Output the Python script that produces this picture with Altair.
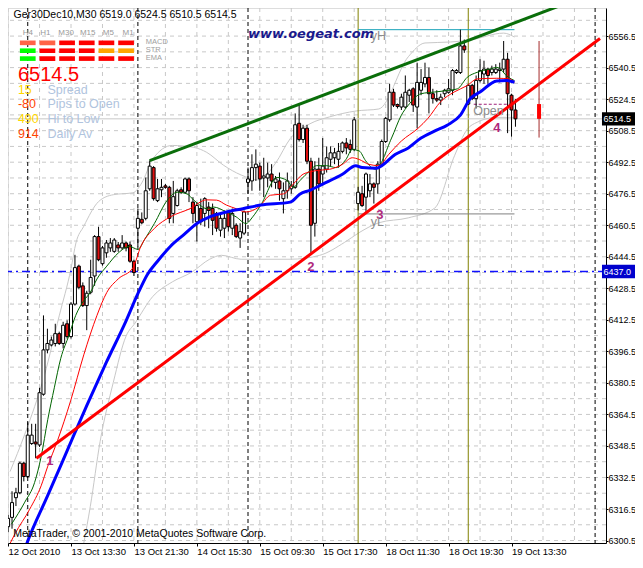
import altair as alt
import pandas as pd

# ---------------- M30 price bars (bar index 0 = 12 Oct 2010 19:30) ----------------
opens = [6307.5, 6312.25, 6322.25, 6324.75, 6339.75, 6333, 6349.75, 6350.5, 6349, 6374.75,
         6397.25, 6399.75, 6400.5, 6405.5, 6400.5, 6410.5, 6404, 6420.5, 6439.75, 6429.75,
         6419.75, 6426.5, 6434.75, 6454.75, 6441, 6446.5, 6449, 6447.25, 6450.5, 6449,
         6451.5, 6450.5, 6442.25, 6459, 6463.5, 6464, 6479, 6489.75, 6473, 6478.5,
         6480.5, 6479.75, 6466.5, 6470.5, 6478.5, 6477.25, 6484, 6472.25, 6462.25, 6469,
         6466.5, 6469.75, 6469, 6466.5, 6458, 6459, 6467.25, 6459, 6460.5, 6454,
         6456.5, 6482.25, 6483, 6489.75, 6490.5, 6484.5, 6484.5, 6486.5, 6482.25, 6483,
         6474, 6478, 6479, 6479.75, 6512.25, 6504, 6509.75, 6493, 6461.5, 6489,
         6486.5, 6489, 6494, 6494.75, 6494, 6498, 6502.25, 6501.5, 6499, 6471.5,
         6476.5, 6474.75, 6478, 6481.5, 6481.5, 6491.5, 6503, 6514, 6528, 6521.75,
         6520.5, 6520.5, 6526.5, 6529.75, 6520.5, 6529, 6532.25, 6535.5, 6527.25, 6524.75,
         6524, 6527.25, 6528, 6529, 6538, 6538, 6551.5, 6522, 6531.5, 6524.75,
         6534, 6537.25, 6539.75, 6538, 6538, 6539, 6539.75, 6544.75, 6526.5, 6519]
highs = [6313.5, 6325.5, 6327.25, 6340.5, 6340.5, 6360.5, 6359.75, 6359.75, 6378, 6414.75,
         6408, 6404, 6410.5, 6406.5, 6411.5, 6412.25, 6421.5, 6445.5, 6440.5, 6431.5,
         6427.25, 6443, 6455.5, 6459.75, 6450, 6453, 6454, 6454, 6452, 6455.5,
         6452.25, 6452.25, 6443, 6469, 6467, 6484.75, 6493.4, 6490.5, 6484, 6484,
         6481.5, 6480.5, 6483, 6479, 6479.75, 6484.75, 6484.75, 6474.75, 6472.25, 6474,
         6474.75, 6472.25, 6471.5, 6467.25, 6466.5, 6468, 6468, 6469, 6461.5, 6461.5,
         6468, 6489.75, 6496.5, 6499, 6492.25, 6494.75, 6492.25, 6491.5, 6485.5, 6487.25,
         6482.25, 6487.25, 6483, 6517.25, 6522.25, 6511.5, 6511.5, 6494.75, 6493, 6494.75,
         6504.75, 6500.5, 6500.5, 6499.75, 6502.25, 6503, 6504.75, 6504, 6515.5, 6480,
         6480.5, 6487.25, 6486.5, 6482.25, 6493, 6504, 6515.5, 6532.25, 6529.75, 6522.25,
         6527.25, 6536.5, 6529.75, 6530.5, 6543, 6539.75, 6543, 6540.5, 6529.75, 6529,
         6527.25, 6529.75, 6534.75, 6539.75, 6539.75, 6559.75, 6554.75, 6532.25, 6532.25, 6536.5,
         6544.75, 6544, 6540.5, 6541.5, 6542.25, 6543, 6554, 6548, 6527.25, 6524.5]
lows = [6304.75, 6306.5, 6318, 6324, 6330.5, 6332.25, 6349, 6342.25, 6348, 6374,
        6395.5, 6399, 6399, 6399.75, 6398, 6403, 6403, 6419.75, 6428, 6419,
        6407.25, 6425.5, 6429.75, 6442.25, 6440, 6444, 6447, 6446.5, 6447, 6448,
        6447.25, 6441.5, 6434.75, 6449.75, 6461, 6463, 6478, 6473, 6472.25, 6474.75,
        6479, 6461.5, 6461.5, 6470, 6476.5, 6476.5, 6472.25, 6461.5, 6452.25, 6460.5,
        6459.75, 6459, 6455.5, 6457.25, 6454.75, 6454, 6457.25, 6455.5, 6454, 6449,
        6455.5, 6476.5, 6478, 6483, 6478, 6474.75, 6479.75, 6479.75, 6479, 6473,
        6466.5, 6474, 6476.5, 6479, 6503, 6502.25, 6491.5, 6446.5, 6454.75, 6478,
        6481.5, 6487.25, 6490.5, 6491.5, 6489.75, 6497, 6496.5, 6497.25, 6498, 6468,
        6469.75, 6466.5, 6474.75, 6471.5, 6476.5, 6490, 6502.25, 6513, 6520.5, 6519.75,
        6519, 6519.75, 6523, 6518, 6509.75, 6526.5, 6530.5, 6517.25, 6522.25, 6523,
        6521.5, 6525.5, 6527.25, 6526.5, 6537.25, 6537.25, 6548, 6521.5, 6524, 6519.75,
        6533, 6532.25, 6532.25, 6536.5, 6537.25, 6533, 6538, 6507.25, 6505.5, 6510.5]
closes = [6311.75, 6319.75, 6324.75, 6339.75, 6333, 6354, 6354, 6349.5, 6375.5, 6397.25,
          6400.5, 6402.25, 6405.5, 6400.5, 6409.75, 6404, 6420.5, 6439, 6429, 6419.75,
          6426, 6434, 6454.75, 6443, 6449, 6451.5, 6451.5, 6453, 6449, 6451.5,
          6449, 6442.25, 6436.5, 6464, 6461.75, 6478, 6490.5, 6474, 6479, 6479.75,
          6479.75, 6464, 6475, 6478, 6477.25, 6484, 6478, 6466.5, 6470.5, 6462.25,
          6474, 6468, 6463, 6459, 6464, 6464, 6459.75, 6466.5, 6454.75, 6457.25,
          6467.25, 6484, 6489.75, 6491.5, 6484, 6485.5, 6486.5, 6483, 6484, 6479,
          6478, 6483, 6480.5, 6511.5, 6504, 6509.75, 6493, 6460.5, 6489, 6481.5,
          6490.5, 6494.75, 6497.25, 6497.25, 6498, 6502.25, 6499.75, 6499, 6514, 6477.25,
          6470.5, 6486.5, 6481.5, 6479.75, 6491.5, 6503, 6514.75, 6528, 6521.5, 6520.75,
          6525.5, 6528, 6529, 6521.5, 6533, 6533, 6535.5, 6527.25, 6524.75, 6524,
          6525.5, 6529, 6529.75, 6539, 6539, 6551.5, 6549.5, 6531.5, 6524.75, 6534,
          6539, 6539.75, 6536.5, 6539.75, 6539.75, 6539.75, 6544.75, 6527.25, 6519, 6514.5]

# ---------------- moving averages (bar index, price) ----------------
ma_blue_i = [4.4, 5.1, 10, 15, 20, 25, 30, 33, 35.5, 38, 41.25, 44.7, 48, 51.25, 55.5, 59.7,
             64.25, 71.75, 74.25, 76.75, 80, 85, 88.4, 90, 93.75, 95, 98.4, 101.75, 105,
             108.4, 111.75, 115, 117.5, 120, 124.25, 126.75, 128.75]
ma_blue_p = [6297, 6300.75, 6323, 6346, 6369, 6391, 6412, 6425.75, 6435.75, 6442.25, 6449.75,
             6455.75, 6461.4, 6464.75, 6467.25, 6468.9, 6470.75, 6472.25, 6476.4, 6478.25,
             6481.4, 6486.4, 6490.75, 6489.75, 6489.4, 6490.75, 6496.4, 6499.75, 6504.75,
             6508.25, 6511.4, 6516.4, 6524.75, 6528.1, 6533.75, 6533.9, 6533.1]
ma_red_i = [0.5, 1.75, 5.5, 8.4, 10.1, 12.6, 15.9, 19.25, 22.6, 25.1, 28, 31.75, 33.75, 37.2,
            41.25, 46.25, 50.5, 53, 55.5, 58, 60.5, 63.75, 66.75, 70, 72.5, 75, 78.4, 81.75,
            85, 87.5, 89.25, 91.75, 94.25, 96.75, 100, 104.25, 106.75, 110, 113.4, 116.75,
            119.25, 124.25, 127.5, 128.75]
ma_red_p = [6299, 6303.9, 6316.4, 6328.25, 6338.25, 6351.4, 6371.4, 6394.75, 6414.75, 6426.4,
            6433.25, 6438.9, 6449.75, 6458.9, 6464.75, 6468.9, 6473.4, 6473.25, 6470.75,
            6468.9, 6467.25, 6469.75, 6475.75, 6476.4, 6481.4, 6486.4, 6488.25, 6488.9,
            6491.4, 6494.75, 6493.9, 6491.4, 6490.75, 6496.4, 6503.25, 6509.75, 6514.75,
            6523.25, 6528.1, 6531.4, 6534.75, 6535.1, 6534.75, 6533.1]
ma_green_i = [0.9, 4.25, 6.75, 8.4, 10.1, 11.75, 13.4, 15.5, 17.2, 19.25, 20.9, 22.6, 25.1, 28,
              30.9, 33, 34.7, 37.2, 40.5, 43, 45.5, 47.2, 48.75, 50.5, 52.2, 55.5, 58, 60.5,
              62.2, 64.25, 68.4, 70.9, 72.5, 74.25, 76.75, 78.4, 80.9, 83.4, 85.9, 87.5, 89.25,
              90.9, 93.4, 97.5, 100, 101.75, 105, 108.4, 111.75, 114.25, 116.75, 119.25, 122.5,
              124.25, 127.2, 128.75]
ma_green_p = [6308.9, 6320, 6330, 6343, 6362, 6378, 6393, 6404.75, 6414.75, 6422.25, 6426.4,
              6433.25, 6439.75, 6446.4, 6449.75, 6448.25, 6453.25, 6461.4, 6473.25, 6477.25,
              6476.4, 6473.25, 6470.75, 6468.9, 6469.75, 6467.25, 6464.75, 6461.4, 6464.75,
              6470.75, 6484.75, 6483.25, 6479.75, 6483.25, 6488.25, 6490.75, 6490.75, 6489.75,
              6493.9, 6498.9, 6498.25, 6493.25, 6488.9, 6504.75, 6516.4, 6521.4, 6527.25,
              6528.1, 6528.9, 6529.75, 6535.6, 6538.1, 6539.75, 6540.6, 6535.6, 6533.9]

# ---------------- envelope bands (bar index, price) ----------------
band_up_i = [0.5, 4.25, 9.25, 13, 16, 17.25, 19.25, 23, 26.75, 31.75, 34, 36.75, 41.75, 47.25,
             50.5, 54.75, 59.25, 63.75, 68, 71.75, 76.75, 81.75, 88.5, 94.25, 101.75, 106,
             112.5, 117.5, 126, 128.75]
band_up_p = [6335.5, 6354.5, 6384.5, 6414.5, 6438.5, 6451.5, 6460, 6472.5, 6476, 6477, 6482,
             6494, 6501, 6500, 6497.5, 6491, 6486, 6483.5, 6492, 6504.5, 6512, 6515.5, 6518.5,
             6519.5, 6546, 6553, 6553.5, 6554.5, 6558, 6556]
band_lo_i = [19.25, 20.9, 23.4, 26.75, 30, 32.25, 36.75, 41.75, 46.75, 51.25, 54.25, 59.25,
             64.25, 71.75, 79.25, 85.5, 89.25, 94.25, 101.75, 108.5, 113.5, 116.75, 119.25,
             124.25, 128.75]
band_lo_p = [6299.25, 6317.75, 6350.75, 6380.75, 6404.25, 6410.75, 6424.25, 6431.75, 6436.75,
             6443.25, 6445.25, 6443.25, 6443.25, 6443.25, 6445.25, 6451.75, 6456.75, 6461.75,
             6464.25, 6469.25, 6495.75, 6509.25, 6512.75, 6515.25, 6515.25]

# ---------------- trend lines, levels, daily bar ----------------
trend_green_i = [36, 140.75]
trend_green_p = [6493.25, 6572.25]
trend_red_i = [7.2, 150.5]
trend_red_p = [6342.25, 6555.25]
day_sep = [5, 33, 61, 149.25]
day_mark = [89, 117]
level_names = ["yH", "yL"]
level_prices = [6559.75, 6466.25]
day_open = 6521.9
bid = 6514.5
blue_level = 6437.0
day_o, day_h, day_l, day_c = 6522.0, 6554.0, 6505.0, 6514.5

# ---------------- axes ----------------
x_ticks = [0, 16, 32, 48, 64, 80, 96, 112, 128]
x_labels = ["12 Oct 2010", "13 Oct 13:30", "13 Oct 21:30", "14 Oct 15:30", "15 Oct 09:30",
            "15 Oct 17:30", "18 Oct 11:30", "18 Oct 19:30", "19 Oct 13:30"]
y_ticks = [6300.5 + 16 * k for k in range(18)]
grid_x = list(range(0, 145, 8))
grid_y = [6300.5 + 8 * k for k in range(35)]

# ---------------- signal panel ----------------
tf_names = ["H4", "H1", "M30", "M15", "M5", "M1"]
sig_rows = ["MACD", "STR", "EMA"]
sig_colors = [["#ff6347", "#ff6347", "#ff0000", "#ff0000", "#ff0000", "#ff0000"],
              ["#00ff00", "#ff0000", "#ff0000", "#ff0000", "#ffa500", "#ffa500"],
              ["#00ff00", "#ff0000", "#ff0000", "#ff0000", "#ff0000", "#ff0000"]]
info_vals = ["15", "-80", "490", "914"]
info_names = ["Spread", "Pips to Open", "Hi to Low", "Daily Av"]
info_colors = ["#ffd700", "#ff4500", "#ffd700", "#ff4500"]

# ======================================================================
FONT = "Liberation Sans"
XS = alt.Scale(domain=[1.25, 150.75], nice=False, zero=False)
YS = alt.Scale(domain=[6299.25, 6570.75], nice=False, zero=False)

xaxis = alt.Axis(values=x_ticks,
                 labelExpr="[" + ",".join("'%s'" % s for s in x_labels) + "][round(datum.value/16)]",
                 labelAlign="left", labelBaseline="top", labelPadding=0, tickSize=3,
                 tickColor="black", domainColor="black", labelColor="black", labelFont=FONT,
                 labelFontSize=9.5, grid=False, labelFlush=False, labelOverlap=False,
                 labelBound=False, orient="bottom", title=None)
yaxis = alt.Axis(values=y_ticks, format=".1f", orient="right", tickSize=2, labelPadding=0,
                 tickColor="black", domainColor="black", labelColor="black", labelFont=FONT,
                 labelFontSize=9, grid=False, labelOverlap=False, labelBound=False,
                 labelFlush=False, title=None)


def X(f):
    return alt.X(f, type="quantitative", scale=XS, axis=xaxis, title=None)


def Y(f):
    return alt.Y(f, type="quantitative", scale=YS, axis=yaxis, title=None)


n = len(opens)
bars = pd.DataFrame({"i": list(range(n)), "o": opens, "h": highs, "l": lows, "c": closes})
bars["d"] = ["up" if c >= o else "dn" for o, c in zip(opens, closes)]

layers = []
layers.append(alt.Chart(pd.DataFrame({"v": grid_x})).mark_rule(
    color="#c8c8c8", strokeDash=[4, 4], clip=True).encode(x=X("v")))
layers.append(alt.Chart(pd.DataFrame({"v": grid_y})).mark_rule(
    color="#c8c8c8", strokeDash=[4, 4], clip=True).encode(y=Y("v")))

bands = pd.concat([
    pd.DataFrame({"i": band_up_i, "p": band_up_p, "b": "up"}),
    pd.DataFrame({"i": band_lo_i, "p": band_lo_p, "b": "lo"})])
layers.append(alt.Chart(bands).mark_line(color="#c8c8c8", strokeWidth=1, clip=True,
                                         interpolate="monotone").encode(
    x=X("i"), y=Y("p"), detail="b:N"))

layers.append(alt.Chart(pd.DataFrame({"v": day_sep})).mark_rule(
    color="black", strokeDash=[4, 3], clip=True).encode(x=X("v")))
layers.append(alt.Chart(pd.DataFrame({"v": day_mark})).mark_rule(
    color="#808000", clip=True).encode(x=X("v")))
layers.append(alt.Chart(pd.DataFrame({"v": [bid]})).mark_rule(
    color="#c8c8c8", clip=True).encode(y=Y("v")))
layers.append(alt.Chart(pd.DataFrame({"v": [blue_level]})).mark_rule(
    color="#1010ff", strokeWidth=1.4, strokeDash=[8, 4, 2, 4], clip=True).encode(y=Y("v")))

lv = pd.DataFrame({"n": level_names, "p": level_prices, "a": [89, 89], "b": [128.75, 128.75],
                   "col": ["#17a2b8", "#808080"]})
layers.append(alt.Chart(lv).mark_rule(strokeWidth=1).encode(
    x=X("a"), x2="b:Q", y=Y("p"), color=alt.Color("col:N", scale=None)))
layers.append(alt.Chart(pd.DataFrame({"a": [118.4], "b": [128.75], "p": [day_open]})).mark_rule(
    color="#a0207a", strokeDash=[3, 2]).encode(x=X("a"), x2="b:Q", y=Y("p")))

# candles
layers.append(alt.Chart(bars).mark_rule(color="black", strokeWidth=1, clip=True).encode(
    x=X("i"), y=Y("l"), y2="h:Q"))
layers.append(alt.Chart(bars).mark_bar(size=3, stroke="black", strokeWidth=1, clip=True).encode(
    x=X("i"), y=Y("o"), y2="c:Q",
    fill=alt.Fill("d:N", scale=alt.Scale(domain=["up", "dn"], range=["white", "#e01010"]),
                  legend=None)))

# moving averages
for mi, mp, col, w in [(ma_green_i, ma_green_p, "#006400", 1),
                       (ma_red_i, ma_red_p, "#ff0000", 1),
                       (ma_blue_i, ma_blue_p, "#0000ff", 3)]:
    layers.append(alt.Chart(pd.DataFrame({"i": mi, "p": mp})).mark_line(
        color=col, strokeWidth=w, clip=True, interpolate="monotone").encode(x=X("i"), y=Y("p")))

# trend lines
layers.append(alt.Chart(pd.DataFrame({"i": trend_green_i, "p": trend_green_p})).mark_line(
    color="#0a6e0a", strokeWidth=3, clip=True).encode(x=X("i"), y=Y("p")))
layers.append(alt.Chart(pd.DataFrame({"i": trend_red_i, "p": trend_red_p})).mark_line(
    color="#ff0000", strokeWidth=3, clip=True).encode(x=X("i"), y=Y("p")))

# daily bar
day = pd.DataFrame({"i": [135], "o": [day_o], "h": [day_h], "l": [day_l], "c": [day_c]})
layers.append(alt.Chart(day).mark_rule(color="#a52a2a").encode(x=X("i"), y=Y("l"), y2="h:Q"))
layers.append(alt.Chart(day).mark_bar(size=4, color="#ff0000").encode(x=X("i"), y=Y("o"), y2="c:Q"))

# signal panel rects
rect_rows = []
for r, row in enumerate(sig_colors):
    for k, col in enumerate(row):
        rect_rows.append({"a": 3 + 5 * k, "b": 7 + 5 * k,
                          "p1": 6554.25 - 4.0 * r, "p2": 6551.9 - 4.0 * r, "col": col})
layers.append(alt.Chart(pd.DataFrame(rect_rows)).mark_rect().encode(
    x=X("a"), x2="b:Q", y=Y("p1"), y2="p2:Q", color=alt.Color("col:N", scale=None)))


def text_layer(df, **kw):
    enc = dict(x=X("x"), y=Y("y"), text="t:N")
    if "col" in df.columns:
        enc["color"] = alt.Color("col:N", scale=None)
    return alt.Chart(df).mark_text(**kw).encode(**enc)


layers.append(text_layer(pd.DataFrame({"x": [5, 9.5, 14.75, 20.25, 25.5, 30.5], "y": [6558.25] * 6,
                                       "t": tf_names}),
                         font=FONT, fontSize=8, color="#999999", align="center", baseline="middle"))
layers.append(text_layer(pd.DataFrame({"x": [35] * 3, "y": [6553.25, 6549.25, 6545.25], "t": sig_rows}),
                         font=FONT, fontSize=7.5, color="#a0a0a0", align="left", baseline="middle"))
layers.append(text_layer(pd.DataFrame({"x": [2.5], "y": [6533.75], "t": ["%.1f" % bid]}),
                         font=FONT, fontSize=20, color="#ff0000", align="left", baseline="alphabetic"))
iy = [6527.25, 6519.75, 6512.25, 6504.75]
layers.append(text_layer(pd.DataFrame({"x": [2.5] * 4, "y": iy, "t": info_vals, "col": info_colors}),
                         font=FONT, fontSize=12.5, align="left", baseline="alphabetic"))
layers.append(text_layer(pd.DataFrame({"x": [10] * 4, "y": iy, "t": info_names}),
                         font=FONT, fontSize=12.5, color="#b0c4de", align="left", baseline="alphabetic"))
layers.append(text_layer(pd.DataFrame({"x": [1.4], "y": [6565.9],
                                       "t": ["Ger30Dec10,M30  6519.0 6524.5 6510.5 6514.5"]}),
                         font=FONT, fontSize=10.5, color="black", align="left", baseline="alphabetic"))
layers.append(text_layer(pd.DataFrame({"x": [1.3], "y": [6302.25],
                                       "t": ["MetaTrader, \u00a9 2001-2010 MetaQuotes Software Corp."]}),
                         font=FONT, fontSize=10.5, color="black", align="left", baseline="alphabetic"))
layers.append(text_layer(pd.DataFrame({"x": [61], "y": [6555.6], "t": ["www.oegeat.com"]}),
                         font="DejaVu Sans", fontSize=13, fontWeight="bold", fontStyle="italic",
                         color="#1a1a8c", align="left", baseline="alphabetic"))
layers.append(text_layer(pd.DataFrame({"x": [10.6, 77, 94.5, 124.25], "y": [6338.75, 6437.25, 6463.75, 6507.75],
                                       "t": ["1", "2", "3", "4"]}),
                         font=FONT, fontSize=13, fontWeight="bold", color="#b0287c",
                         align="center", baseline="alphabetic"))
layers.append(text_layer(pd.DataFrame({"x": [92.2, 92.2, 118.25], "y": [6554.4, 6460.25, 6516.25],
                                       "t": ["yH", "yL", "Open"]}),
                         font=FONT, fontSize=12.5, color="#8c8c8c", align="left", baseline="alphabetic"))

# price tags on the right axis
tags = pd.DataFrame({"p": [bid, blue_level], "t": ["%.1f" % bid, "%.1f" % blue_level],
                     "col": ["#000000", "#0000cd"]})
tags["a"] = 151.0
tags["b"] = 160.0
tags["p1"] = tags["p"] - 3.4
tags["p2"] = tags["p"] + 3.4
tags["x"] = 151.4
layers.append(alt.Chart(tags).mark_rect().encode(
    x=X("a"), x2="b:Q", y=Y("p1"), y2="p2:Q", color=alt.Color("col:N", scale=None)))
layers.append(alt.Chart(tags).mark_text(font=FONT, fontSize=9, color="white", align="left",
                                        baseline="middle").encode(x=X("x"), y=Y("p"), text="t:N"))

chart = alt.layer(*layers).properties(
    width=598, height=535,
    padding={"left": 0, "top": 0, "right": 29, "bottom": 12},
    autosize=alt.AutoSizeParams(type="none"),
).configure_view(stroke=None).configure(background="white")

chart.save("out.html", embed_options={"renderer": "svg", "actions": False})
